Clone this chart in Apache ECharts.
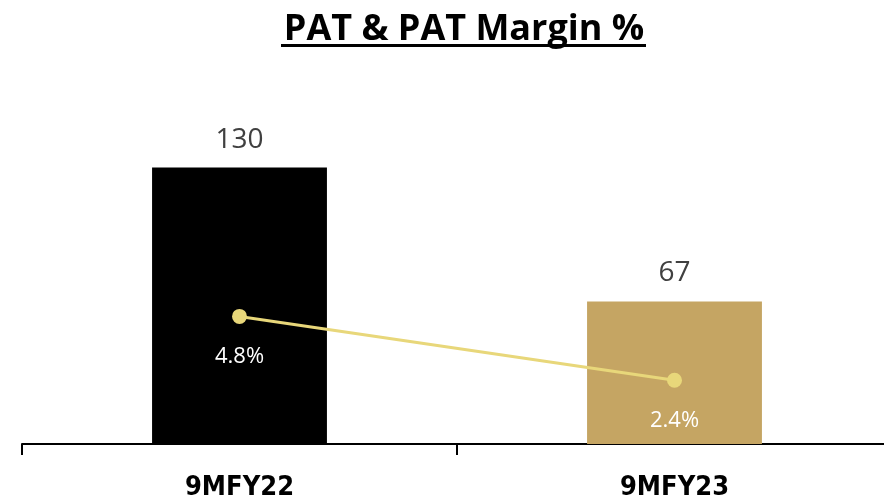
<!DOCTYPE html>
<html>
<head>
<meta charset="utf-8">
<script src="https://cdn.jsdelivr.net/npm/echarts@6/dist/echarts.min.js"></script>
<style>
  html, body { margin: 0; padding: 0; background: #fff; overflow: hidden; }
  /* plot runs a little past the right edge, like the original slide */
  #chart { width: 892px; height: 502px; }
</style>
</head>
<body>
<div id="chart"></div>
<script>
// data
const categories = ['9MFY22', '9MFY23']
const patValues = [130, 67]
const marginValues = [4.8, 2.4]
const barColors = ['#000000', '#C5A563']

const chart = echarts.init(document.getElementById('chart'))

const option = {
  animation: false,
  title: {
    text: 'PAT & PAT Margin %',
    left: 459,
    textAlign: 'center',
    top: 7,
    textStyle: {
      fontFamily: 'Open Sans',
      fontWeight: 'bold',
      fontSize: 36,
      color: '#000'
    }
  },
  // underline under the title
  graphic: [{
    type: 'rect',
    left: 281,
    top: 44,
    shape: { width: 365, height: 3 },
    style: { fill: '#000' }
  }],
  grid: {
    left: 22,
    right: 0,
    top: 125,
    bottom: 58
  },
  xAxis: {
    type: 'category',
    data: categories,
    axisLine: { lineStyle: { color: '#000', width: 2 } },
    axisTick: { show: true, length: 11, lineStyle: { color: '#000', width: 2 } },
    axisLabel: {
      margin: 30,
      fontFamily: 'DejaVu Sans Condensed',
      fontWeight: 'bold',
      fontSize: 27,
      color: '#000'
    }
  },
  yAxis: [{
    type: 'value',
    min: 0,
    max: 150,
    show: false
  }, {
    type: 'value',
    min: 0,
    max: 12,
    show: false
  }],
  series: [{
    name: 'PAT',
    type: 'bar',
    barWidth: '40.2%',
    data: patValues.map((v, i) => ({ value: v, itemStyle: { color: barColors[i] } })),
    label: {
      show: true,
      position: 'top',
      distance: 14,
      fontFamily: 'Open Sans',
      fontSize: 28,
      color: '#404040'
    },
    z: 2
  }, {
    name: 'PAT Margin %',
    type: 'line',
    yAxisIndex: 1,
    data: marginValues,
    symbol: 'circle',
    symbolSize: 15,
    lineStyle: { color: '#E8D77A', width: 3 },
    itemStyle: { color: '#E8D77A' },
    label: {
      show: true,
      position: 'bottom',
      distance: 22,
      formatter: p => p.value.toFixed(1) + '%',
      fontFamily: 'Open Sans',
      fontSize: 22,
      color: '#fff'
    },
    z: 3
  }]
}

chart.setOption(option)
</script>
</body>
</html>
